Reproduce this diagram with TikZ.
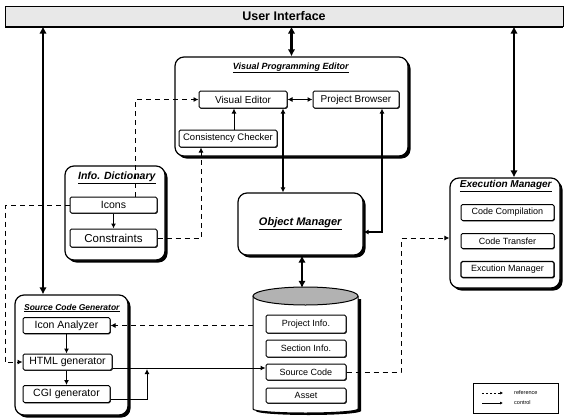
\documentclass[tikz,border=0pt]{standalone}
\usepackage{fontspec}
\setmainfont{Liberation Sans}
\usetikzlibrary{arrows.meta,shadows}
\newcommand{\fs}[1]{\fontsize{#1}{#1}\selectfont}
\newcommand{\ttl}[1]{\underline{\textbf{\textit{#1}}}}
\tikzset{
  cont/.style={draw, line width=1.2pt, rounded corners=9pt, fill=white,
    general shadow={fill=black, shadow xshift=2.5pt, shadow yshift=-2.5pt}},
  ibox/.style={draw, line width=1pt, rounded corners=1.5pt, fill=white, inner sep=1pt,
    general shadow={fill=black!80, shadow xshift=0.8pt, shadow yshift=-0.8pt}},
  thk/.style={line width=2.2pt, {Latex[length=7pt,width=7.5pt]}-{Latex[length=7pt,width=7.5pt]}},
  ctl/.style={line width=1pt, -{Latex[length=5pt,width=5pt]}},
  ctltwo/.style={line width=1.2pt, {Latex[length=5pt,width=5pt]}-{Latex[length=5pt,width=5pt]}},
  refl/.style={line width=0.9pt, dash pattern=on 5pt off 4pt, -{Latex[length=5pt,width=5pt]}},
}
\begin{document}
\begin{tikzpicture}[x=1pt,y=-1pt]
\useasboundingbox (0,0) rectangle (568,418);
% User interface
\node[draw, line width=1pt, fill=gray!18, minimum width=558, minimum height=20, inner sep=0,
  general shadow={fill=black, shadow xshift=0pt, shadow yshift=-1.5pt}] (ui) at (284,16)
  {\fs{12.5}\textbf{User Interface}};
% Visual Programming Editor
\node[cont, minimum width=233, minimum height=99] (vpe) at (291.5,106.5) {};
\node (vpet) at (291,68) {\fs{9}\ttl{Visual Programming Editor}};
\node[ibox, minimum width=88, minimum height=17] (ve) at (243,99.5) {\fs{10}Visual Editor};
\node[ibox, minimum width=86, minimum height=17] (pb) at (356,99.5) {\fs{10}Project Browser};
\node[ibox, minimum width=98, minimum height=17] (cc) at (228,138.5) {\fs{9.5}Consistency Checker};
% Info dictionary
\node[cont, minimum width=100, minimum height=94] (infod) at (115,213) {};
\node (infot) at (117,178) {\fs{10.5}\ttl{Info. Dictionary}};
\node[ibox, minimum width=87, minimum height=16] (icons) at (113.5,205) {\fs{10.5}Icons};
\node[ibox, minimum width=87, minimum height=18] (cons) at (113.5,238) {\fs{11.5}Constraints};
% Object manager
\node[cont, minimum width=125, minimum height=62] (om) at (300.5,224) {\fs{11}\ttl{Object Manager}};
% Execution manager
\node[cont, minimum width=110, minimum height=110] (em) at (505,233) {};
\node (emt) at (506,186) {\fs{10}\ttl{Execution Manager}};
\node[ibox, minimum width=93, minimum height=16] (ccomp) at (507.5,212.5) {\fs{9}Code Compilation};
\node[ibox, minimum width=93, minimum height=15] (ctrans) at (507.5,241) {\fs{9}Code Transfer};
\node[ibox, line width=1.4pt, minimum width=93, minimum height=16] (exm) at (507.5,269.5) {\fs{9}Excution Manager};
% Source code generator
\node[cont, minimum width=113, minimum height=120] (scg) at (71.5,355) {};
\node (scgt) at (72,308) {\fs{8.5}\ttl{Source Code Generator}};
\node[ibox, minimum width=87, minimum height=16] (ia) at (66.5,325.5) {\fs{10.5}Icon Analyzer};
\node[ibox, minimum width=89, minimum height=16] (html) at (67.5,362) {\fs{10.5}HTML generator};
\node[ibox, minimum width=87, minimum height=17] (cgi) at (66.5,394) {\fs{10.5}CGI generator};
% Database cylinder
\node[minimum width=105, minimum height=126, inner sep=0] (db) at (305.5,350) {};
\fill[black] (256,299) -- (256,411) arc[start angle=180,end angle=0,x radius=52.5,y radius=4] -- (361,299) -- cycle;
\draw[line width=1pt, fill=white] (253,296) -- (253,409) arc[start angle=180,end angle=0,x radius=52.5,y radius=4] -- (358,296);
\filldraw[line width=1pt, fill=gray!60] (305.5,296) ellipse [x radius=52.5, y radius=9];
\node[ibox, minimum width=80, minimum height=18] (pi) at (306,324) {\fs{9}Project Info.};
\node[ibox, minimum width=80, minimum height=17] (si) at (306,348.5) {\fs{9}Section Info.};
\node[ibox, minimum width=80, minimum height=16] (sc) at (306,372) {\fs{9}Source Code};
\node[ibox, minimum width=80, minimum height=15] (as) at (306,395.5) {\fs{9}Asset};
% helper coordinates
\coordinate (lx) at (43,0);
\coordinate (rx) at (514,0);
\coordinate (mx) at (302,0);
\coordinate (c1) at (234,0);
\coordinate (c2) at (283,0);
\coordinate (pbom) at (382,232);
\coordinate (r1) at (135,0);
\coordinate (r3) at (201,0);
\coordinate (r4) at (5,0);
\coordinate (hy) at (0,368);
\coordinate (cy) at (0,399);
\coordinate (jx) at (147,0);
\coordinate (r5) at (401,238);
% thick connectors
\draw[thk] (ui.south -| lx) -- (scg.north -| lx);
\draw[thk] (ui.south -| vpe.north) -- (vpe.north);
\draw[thk] (ui.south -| rx) -- (em.north -| rx);
\draw[thk] (om.south -| mx) -- ([yshift=-1pt]db.north -| mx);
% control connectors
\draw[ctltwo] (ve) -- (pb);
\draw[ctl] (cc.north -| c1) -- (ve.south -| c1);
\draw[ctltwo] (ve.south -| c2) -- (om.north -| c2);
\draw[ctltwo] (pb.south -| pbom) -- (pbom) -- (om.east |- pbom);
\draw[ctl] (icons.south -| cons.north) -- (cons.north);
\draw[ctl] (ia.south) -- (html.north -| ia.south);
\draw[ctl] (html.south -| ia.south) -- (cgi.north -| ia.south);
\draw[ctl] (html.east |- hy) -- (sc.west |- hy);
\draw[ctl] (cgi.east |- cy) -- (jx |- cy) -- ([yshift=-1pt]jx |- hy);
% reference connectors
\draw[refl] (icons.north -| r1) -- (r1 |- ve) -- (ve.west);
\draw[refl] (cons.east) -- (r3 |- cons.east) -- (cc.south -| r3);
\draw[refl] (icons.west) -- (r4 |- icons.west) -- (r4 |- html.west) -- (html.west);
\draw[refl] (ia.east -| db.west) -- (ia.east);
\draw[refl] (sc.east) -- (sc.east -| r5) -- (r5) -- (em.west |- r5);
% legend
\node[draw, line width=0.6pt, minimum width=85, minimum height=30, inner sep=0,
  general shadow={fill=black!50, shadow xshift=1pt, shadow yshift=-1pt}, fill=white] (leg) at (515.5,398) {};
\coordinate (l1a) at (482,393); \coordinate (l1b) at (503,393);
\coordinate (l2a) at (482,403); \coordinate (l2b) at (503,403);
\draw[line width=0.5pt, dash pattern=on 2pt off 2pt, -{Latex[length=3pt,width=3pt]}] (l1a) -- (l1b);
\draw[line width=0.6pt, -{Latex[length=3pt,width=3pt]}] (l2a) -- (l2b);
\node[anchor=west, inner sep=0] (lt1) at (514,393) {\fs{5.5}reference};
\node[anchor=west, inner sep=0] (lt2) at (514,403) {\fs{5.5}control};
\end{tikzpicture}
\end{document}
